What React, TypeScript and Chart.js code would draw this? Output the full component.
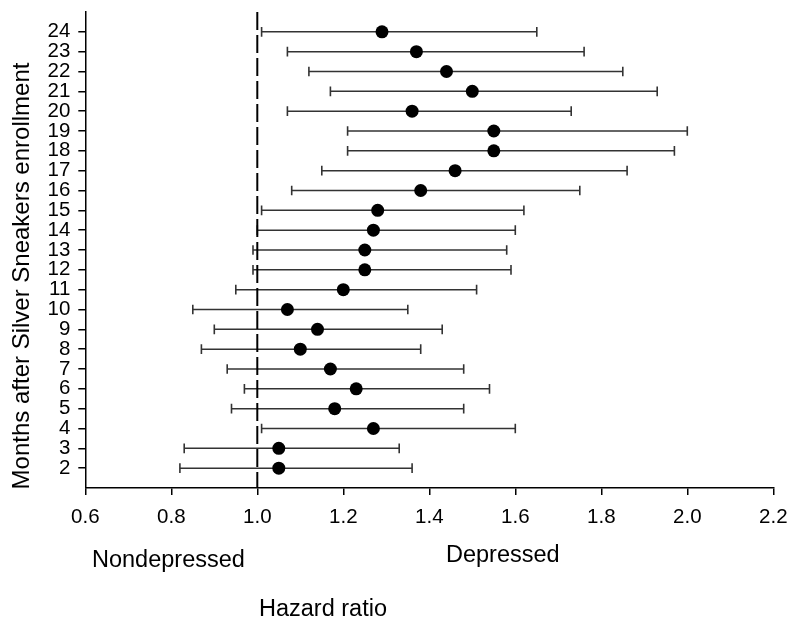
import React, { useEffect, useRef } from "react";
import { Chart, registerables } from "chart.js";

Chart.register(...registerables);

const months = [2, 3, 4, 5, 6, 7, 8, 9, 10, 11, 12, 13, 14, 15, 16, 17, 18, 19, 20, 21, 22, 23, 24];
const hazard = [1.05, 1.05, 1.27, 1.18, 1.23, 1.17, 1.10, 1.14, 1.07, 1.20, 1.25, 1.25, 1.27, 1.28, 1.38, 1.46, 1.55, 1.55, 1.36, 1.50, 1.44, 1.37, 1.29];
const lower = [0.82, 0.83, 1.01, 0.94, 0.97, 0.93, 0.87, 0.90, 0.85, 0.95, 0.99, 0.99, 1.00, 1.01, 1.08, 1.15, 1.21, 1.21, 1.07, 1.17, 1.12, 1.07, 1.01];
const upper = [1.36, 1.33, 1.60, 1.48, 1.54, 1.48, 1.38, 1.43, 1.35, 1.51, 1.59, 1.58, 1.60, 1.62, 1.75, 1.86, 1.97, 2.00, 1.73, 1.93, 1.85, 1.76, 1.65];
const referenceHR = 1.0;
const xMin = 0.6;
const xMax = 2.2;
const xStep = 0.2;
const yMin = 1;
const yMax = 25;

const yTitle = "Months after Silver Sneakers enrollment";
const xTitle = "Hazard ratio";
const leftLabel = "Nondepressed";
const rightLabel = "Depressed";

const FONT = "'Liberation Sans', Arial, Helvetica, sans-serif";

const textPlugin = {
  id: "extraText",
  afterDraw(chart: any) {
    const ctx = chart.ctx;
    ctx.save();
    ctx.fillStyle = "#000";
    ctx.textBaseline = "alphabetic";
    ctx.font = `23.5px ${FONT}`;
    ctx.textAlign = "left";
    ctx.fillText(leftLabel, 92, 567);
    ctx.fillText(rightLabel, 446, 562);
    ctx.fillText(xTitle, 259, 616);
    ctx.font = `24px ${FONT}`;
    ctx.translate(28.5, 276);
    ctx.rotate(-Math.PI / 2);
    ctx.textAlign = "center";
    ctx.fillText(yTitle, 0, 0);
    ctx.restore();
  },
};

export default function App() {
  const ref = useRef<HTMLCanvasElement | null>(null);

  useEffect(() => {
    if (!ref.current) return;
    const pointData = months.map((m, i) => ({ x: hazard[i], y: m }));
    const barSets = months.map((m, i) => ({
      type: "scatter" as const,
      data: [
        { x: lower[i], y: m },
        { x: upper[i], y: m },
      ],
      showLine: true,
      borderColor: "#333",
      borderWidth: 1.5,
      pointStyle: "line" as const,
      pointRotation: 90,
      pointRadius: 4.8,
      pointBorderWidth: 1.6,
      pointBorderColor: "#333",
      pointBackgroundColor: "#333",
      order: 2,
    }));
    const chart = new Chart(ref.current, {
      type: "scatter",
      data: {
        datasets: [
          {
            data: pointData,
            pointRadius: 6.5,
            pointBackgroundColor: "#000",
            pointBorderColor: "#000",
            pointBorderWidth: 0,
            showLine: false,
            order: 0,
          } as any,
          {
            data: [
              { x: referenceHR, y: yMax },
              { x: referenceHR, y: yMin },
            ],
            showLine: true,
            borderColor: "#000",
            borderWidth: 2,
            borderDash: [18, 5],
            pointRadius: 0,
            order: 1,
          } as any,
          ...barSets,
        ],
      },
      options: {
        responsive: false,
        animation: false,
        events: [],
        layout: { padding: { top: 12, right: 26.7, left: 0, bottom: 0 } },
        plugins: {
          legend: { display: false },
          tooltip: { enabled: false },
          title: { display: false },
        },
        scales: {
          x: {
            type: "linear",
            min: xMin,
            max: xMax,
            afterFit: (s: any) => {
              s.height = 140;
              s.paddingLeft = 0;
              s.paddingRight = 0;
            },
            ticks: {
              stepSize: xStep,
              color: "#000",
              font: { family: FONT, size: 20.5 },
              padding: 10,
              maxRotation: 0,
              callback: (v: any) => Number(v).toFixed(1),
            },
            grid: {
              drawOnChartArea: false,
              drawTicks: true,
              tickLength: 7,
              color: "#000",
              lineWidth: 1.5,
            },
            border: { display: true, color: "#000", width: 1.5 },
          },
          y: {
            type: "linear",
            min: yMin,
            max: yMax,
            afterFit: (s: any) => {
              s.width = 85.3;
              s.paddingTop = 0;
              s.paddingBottom = 0;
            },
            afterBuildTicks: (s: any) => {
              s.ticks = months.map((m) => ({ value: m }));
            },
            ticks: {
              color: "#000",
              font: { family: FONT, size: 20.5 },
              padding: 8,
              autoSkip: false,
            },
            grid: {
              drawOnChartArea: false,
              drawTicks: true,
              tickLength: 7,
              color: "#000",
              lineWidth: 1.5,
            },
            border: { display: true, color: "#000", width: 1.5 },
          },
        },
      },
      plugins: [textPlugin],
    });
    return () => chart.destroy();
  }, []);

  return (
    <div style={{ position: "absolute", left: 0, top: 0, width: 800, height: 628, background: "#fff" }}>
      <canvas ref={ref} width={800} height={628} style={{ width: 800, height: 628, display: "block" }} />
    </div>
  );
}
